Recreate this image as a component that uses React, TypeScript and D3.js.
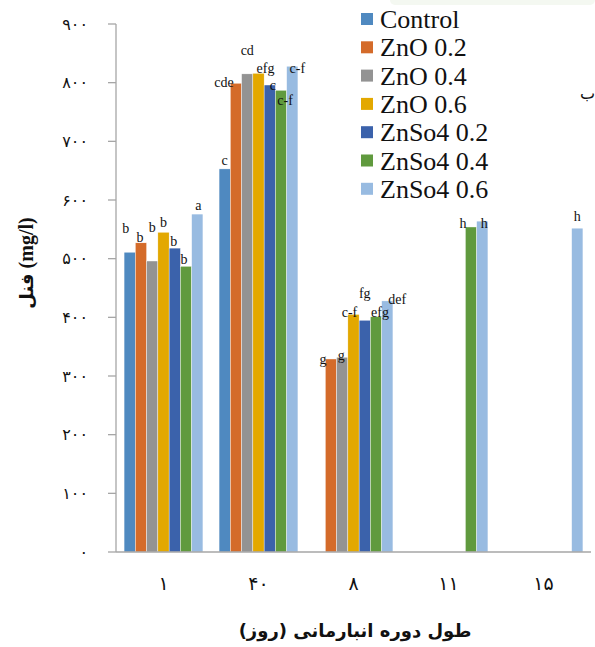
import React from "react";
import * as d3 from "d3";

const days = ["۱", "۴۰", "۸", "۱۱", "۱۵"];
const series = ["Control", "ZnO 0.2", "ZnO 0.4", "ZnO 0.6", "ZnSo4 0.2", "ZnSo4 0.4", "ZnSo4 0.6"];
const colors = ["#4f89c0", "#d46b2a", "#939393", "#e3a800", "#3b62ab", "#609a3e", "#98bbe1"];

// values per series, one per storage day (null = no bar)
const control = [511, 653, null, null, null];
const zno02 = [527, 799, 329, null, null];
const zno04 = [496, 815, 332, null, null];
const zno06 = [545, 816, 405, null, null];
const znso402 = [518, 796, 395, null, null];
const znso404 = [487, 787, 401, 554, null];
const znso406 = [576, 828, 428, 564, 552];
const values = [control, zno02, zno04, zno06, znso402, znso404, znso406];

const letters = [
  ["b", "c", "", "", ""],
  ["b", "cde", "g", "", ""],
  ["b", "cd", "g", "", ""],
  ["b", "efg", "c-f", "", ""],
  ["b", "c", "fg", "", ""],
  ["b", "c-f", "efg", "h", ""],
  ["a", "c-f", "def", "h", "h"],
];

// label nudges [dx, dy] so the letters sit like in the original figure
const nudge: Record<string, [number, number]> = {
  "0-0": [-4, -15], "1-0": [-1, 3], "2-0": [0, -25], "3-0": [0, -1], "4-0": [-1, 2], "5-0": [-2, 2], "6-0": [1, 0],
  "1-1": [-12, 8], "2-1": [0, -15], "3-1": [7, 4], "4-1": [3, 9], "5-1": [4, 19], "6-1": [5, 11],
  "1-2": [-8, 9], "2-2": [-1, 7], "3-2": [-4, 7], "4-2": [0, -18], "5-2": [4, 4], "6-2": [10, 7],
  "5-3": [-8, 5], "6-3": [2, 11], "6-4": [0, -3],
};

const yTicks = [0, 100, 200, 300, 400, 500, 600, 700, 800, 900];
const faDigits = "۰۱۲۳۴۵۶۷۸۹";
const toFa = (n: number) => String(n).replace(/\d/g, (d) => faDigits[+d]);

export default function App() {
  const width = 595;
  const height = 647;
  const left = 116;
  const right = 591;
  const top = 24;
  const bottom = 552;

  const y = d3.scaleLinear().domain([0, 900]).range([bottom, top]);
  const x0 = d3.scaleBand().domain(days).range([left, right]).paddingInner(0.17).paddingOuter(0.085);
  const x1 = d3.scaleBand().domain(series).range([0, x0.bandwidth()]);

  const serif = "'Liberation Serif', 'Times New Roman', serif";
  const fa = "'DejaVu Sans', sans-serif";

  return (
    <svg width={width} height={height} style={{ display: "block", position: "absolute", left: 0, top: 0 }}>
      <rect width={width} height={height} fill="#fff" />
      <rect x={390} y={-6} width={205} height={11} rx={5} fill="#f4f8f1" />
      <text x={580} y={99} fontFamily={fa} fontSize={16} fill="#111">ب</text>

      {/* bars */}
      {values.map((vals, si) =>
        vals.map((v, di) =>
          v == null ? null : (
            <rect
              key={`${si}-${di}`}
              x={x0(days[di])! + x1(series[si])!}
              y={y(v)}
              width={x1.bandwidth()}
              height={y(0) - y(v)}
              fill={colors[si]}
              stroke="#fff"
              strokeWidth={0.4}
            />
          )
        )
      )}

      {/* significance letters */}
      {values.map((vals, si) =>
        vals.map((v, di) => {
          if (v == null || !letters[si][di]) return null;
          const [dx, dy] = nudge[`${si}-${di}`] || [0, 0];
          return (
            <text
              key={`l-${si}-${di}`}
              x={x0(days[di])! + x1(series[si])! + x1.bandwidth() / 2 + dx}
              y={y(v) - 4 + dy}
              textAnchor="middle"
              fontFamily={serif}
              fontSize={14}
              fill="#111"
            >
              {letters[si][di]}
            </text>
          );
        })
      )}

      {/* axes */}
      <line x1={left} x2={left} y1={top} y2={bottom} stroke="#a6a6a6" strokeWidth={1.3} />
      <line x1={left} x2={right} y1={bottom} y2={bottom} stroke="#a6a6a6" strokeWidth={1.3} />
      {yTicks.map((t) => (
        <g key={t}>
          <line x1={left - 8} x2={left} y1={y(t)} y2={y(t)} stroke="#a6a6a6" strokeWidth={1.3} />
          <text x={88} y={y(t)} dy="0.35em" textAnchor="end" fontFamily={fa} fontSize={16} fill="#111">
            {toFa(t)}
          </text>
        </g>
      ))}
      {days.map((d) => (
        <text
          key={d}
          x={x0(d)! + x0.bandwidth() / 2}
          y={590}
          textAnchor="middle"
          fontFamily={fa}
          fontSize={19}
          fill="#111"
        >
          {d}
        </text>
      ))}

      {/* axis titles */}
      <text
        transform="translate(33,263) rotate(-90)"
        textAnchor="middle"
        fontFamily={serif}
        fontWeight="bold"
        fontSize={20}
        fill="#111"
      >
        <tspan fontFamily={fa} fontSize={18}>فنل</tspan> (mg/l)
      </text>
      <text x={355} y={637} textAnchor="middle" fontFamily={fa} fontWeight="bold" fontSize={18} fill="#111">
        طول دوره انبارمانی (روز)
      </text>

      {/* legend */}
      {series.map((s, i) => (
        <g key={s} transform={`translate(361,${19 + i * 28.3})`}>
          <rect x={0} y={-6} width={12} height={12} fill={colors[i]} />
          <text x={19} y={0} dy="0.35em" fontFamily={serif} fontSize={26} fill="#111">
            {s}
          </text>
        </g>
      ))}
    </svg>
  );
}
